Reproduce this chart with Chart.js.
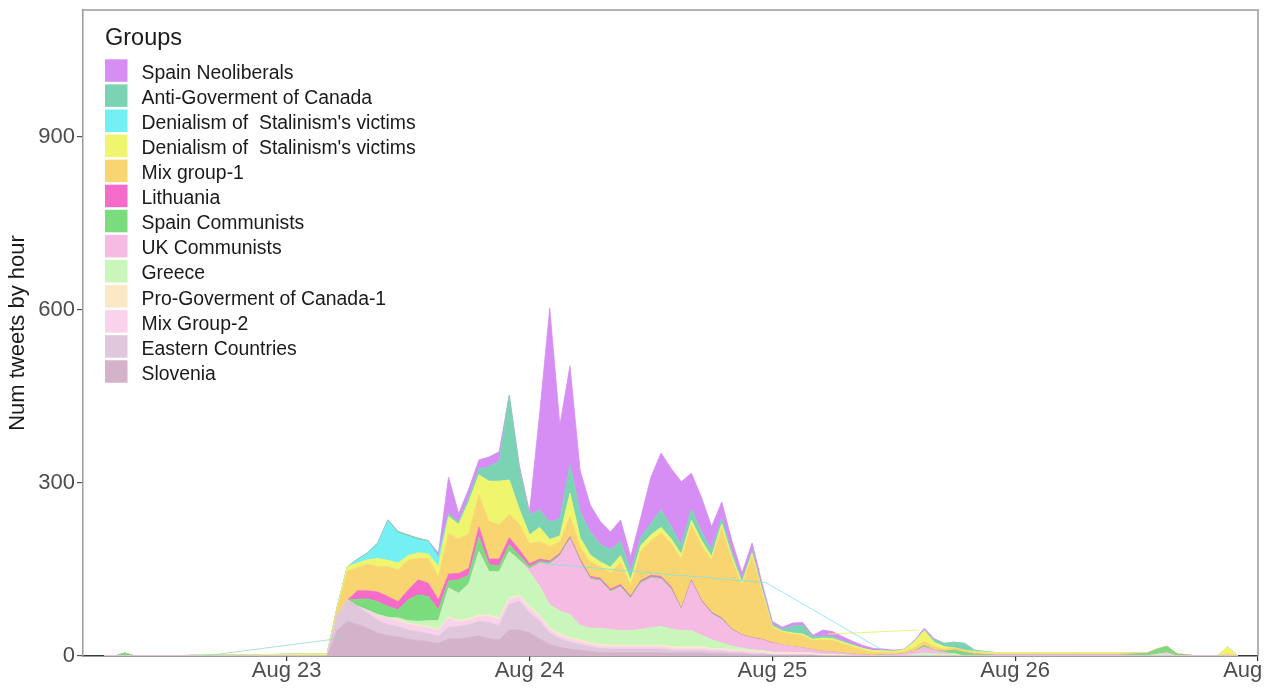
<!DOCTYPE html>
<html>
<head>
<meta charset="utf-8">
<script src="https://cdn.jsdelivr.net/npm/chart.js@4.4.1/dist/chart.umd.min.js"></script>
<style>
  html, body { margin: 0; padding: 0; background: #ffffff; overflow: hidden; width: 1274px; height: 689px; }
  #wrap { position: absolute; left: 0; top: 0; width: 1265px; height: 689px; overflow: hidden; }
  canvas { display: block; }
</style>
</head>
<body>
<div id="wrap"><canvas id="chart" width="1320" height="689"></canvas></div>
<script>
// Hours counted from Aug 23 00:00 (hourly buckets of tweets)
const hours = [
  -18, -17, -16, -15, -12, -8, -4, 0, 2, 3, 4,
  5, 6, 7, 8, 9, 10, 11, 12, 13, 14,
  15, 16, 17, 18, 19, 20, 21, 22, 23, 24,
  25, 26, 27, 28, 29, 30, 31, 32, 33, 34,
  35, 36, 37, 38, 39, 40, 41, 42, 43, 44,
  45, 46, 47, 48, 49, 50, 51, 52, 53, 54,
  55, 56, 57, 58, 59, 60, 61, 62, 63, 64,
  65, 66, 67, 68,
  70, 74, 78, 82, 85, 86, 87, 88, 90, 92, 93, 94
];

// Tweets per hour for each group (stacked bottom to top)
const slovenia = [
  0, 0, 0, 0, 0, 0, 0, 0, 0, 0, 0,
  45, 60, 55, 48, 40, 35, 33, 29, 27, 25,
  22, 30, 30, 32, 35, 30, 28, 45, 45, 40,
  30, 20, 15, 12, 10, 8, 6, 6, 6, 6,
  6, 6, 6, 5, 5, 5, 5, 4, 4, 3,
  3, 2, 2, 1, 1, 1, 1, 1, 0, 0,
  0, 0, 0, 0, 0, 0, 0, 0, 0, 0,
  0, 0, 0, 0,
  0, 0, 0, 0, 0, 0, 0, 0, 0, 0, 0, 0
];
const easternCountries = [
  0, 0, 0, 0, 0, 0, 0, 0, 0, 0, 0,
  25, 37, 31, 26, 22, 19, 18, 16, 15, 14,
  12, 20, 21, 22, 25, 28, 25, 45, 50, 35,
  30, 20, 15, 12, 10, 8, 7, 6, 6, 6,
  6, 6, 6, 5, 5, 5, 5, 4, 4, 3,
  3, 2, 2, 1, 1, 1, 1, 1, 0, 0,
  0, 0, 0, 0, 0, 0, 0, 0, 0, 0,
  0, 0, 0, 0,
  0, 0, 0, 0, 0, 0, 0, 0, 0, 0, 0, 0
];
const mixGroup2 = [
  0, 0, 0, 0, 0, 0, 0, 0, 0, 0, 0,
  0, 0, 0, 5, 8, 10, 10, 10, 10, 10,
  10, 15, 8, 8, 8, 10, 10, 8, 8, 8,
  8, 6, 5, 5, 5, 4, 4, 4, 4, 4,
  4, 4, 4, 4, 3, 3, 3, 3, 3, 3,
  3, 3, 2, 2, 2, 2, 2, 1, 1, 1,
  0, 0, 0, 0, 0, 0, 0, 0, 0, 0,
  0, 0, 0, 0,
  0, 0, 0, 0, 0, 0, 0, 0, 0, 0, 0, 0
];
const proGovCanada1 = [
  0, 0, 0, 0, 0, 0, 0, 0, 0, 0, 0,
  0, 0, 0, 0, 0, 0, 2, 2, 2, 2,
  2, 3, 3, 3, 3, 3, 3, 3, 3, 3,
  3, 3, 3, 3, 3, 3, 3, 3, 3, 3,
  3, 3, 3, 3, 3, 3, 3, 2, 2, 2,
  2, 2, 2, 2, 2, 2, 2, 2, 2, 2,
  2, 1, 0, 0, 0, 0, 0, 0, 0, 0,
  0, 0, 0, 0,
  0, 0, 0, 0, 0, 0, 0, 0, 0, 0, 0, 0
];
const greece = [
  0, 0, 0, 0, 0, 0, 0, 0, 0, 0, 0,
  0, 0, 0, 0, 2, 3, 3, 4, 6, 10,
  15, 50, 47, 60, 110, 75, 80, 80, 60, 60,
  50, 40, 40, 40, 25, 25, 28, 27, 25, 25,
  27, 30, 32, 30, 28, 28, 20, 15, 10, 6,
  3, 2, 2, 1, 1, 0, 0, 0, 0, 0,
  0, 0, 0, 0, 0, 0, 1, 3, 5, 4,
  3, 4, 0, 0,
  0, 0, 0, 0, 0, 3, 3, 0, 0, 0, 0, 0
];
const ukCommunists = [
  0, 0, 0, 0, 0, 0, 0, 0, 0, 0, 0,
  0, 0, 0, 0, 0, 0, 0, 0, 0, 0,
  0, 0, 0, 0, 0, 0, 0, 0, 0, 5,
  40, 70, 95, 130, 110, 85, 82, 65, 75, 55,
  80, 86, 82, 68, 36, 85, 58, 45, 40, 28,
  22, 20, 18, 15, 12, 10, 8, 6, 5, 4,
  3, 2, 2, 1, 2, 2, 3, 5, 10, 6,
  3, 0, 0, 0,
  2, 2, 2, 2, 0, 0, 3, 0, 0, 0, 0, 0
];
const spainCommunists = [
  0, 0, 5, 0, 0, 0, 0, 0, 0, 0, 0,
  0, 0, 12, 20, 22, 19, 14, 36, 46, 42,
  19, 12, 23, 15, 25, 12, 10, 12, 8, 4,
  3, 3, 2, 2, 2, 2, 2, 2, 2, 2,
  2, 2, 2, 2, 1, 1, 1, 1, 1, 1,
  0, 0, 0, 0, 0, 0, 0, 0, 0, 0,
  0, 0, 0, 0, 0, 0, 0, 0, 3, 0,
  2, 6, 6, 3,
  0, 0, 0, 0, 4, 8, 10, 3, 0, 0, 0, 0
];
const lithuania = [
  0, 0, 0, 0, 0, 0, 0, 0, 0, 0, 0,
  0, 0, 15, 14, 17, 17, 14, 17, 26, 23,
  17, 12, 11, 12, 18, 10, 12, 12, 10, 5,
  4, 3, 3, 3, 3, 3, 3, 3, 3, 3,
  3, 3, 3, 3, 2, 2, 2, 2, 2, 1,
  1, 1, 1, 1, 0, 0, 0, 0, 0, 0,
  0, 0, 0, 0, 0, 0, 0, 0, 0, 0,
  0, 0, 0, 0,
  0, 0, 0, 0, 0, 0, 0, 0, 0, 0, 0, 0
];
const mixGroup1 = [
  0, 0, 0, 0, 0, 0, 0, 0, 1, 1, 1,
  10, 50, 40, 46, 44, 52, 55, 52, 37, 43,
  40, 70, 60, 60, 55, 65, 60, 40, 45, 35,
  30, 25, 20, 35, 22, 25, 20, 28, 38, 18,
  50, 60, 75, 75, 85, 95, 95, 90, 155, 120,
  85, 140, 80, 27, 22, 22, 22, 16, 20, 20,
  16, 12, 8, 5, 4, 3, 4, 6, 8, 6,
  4, 4, 4, 3,
  2, 2, 2, 2, 1, 1, 1, 1, 0, 0, 4, 0
];
const denialismYellow = [
  0, 0, 0, 0, 0, 2, 2, 3, 3, 3, 3,
  5, 8, 8, 8, 14, 11, 12, 8, 10, 8,
  18, 30, 25, 55, 35, 70, 75, 60, 25, 15,
  25, 12, 10, 40, 15, 12, 8, 10, 12, 10,
  10, 10, 10, 8, 8, 8, 8, 6, 8, 6,
  5, 6, 4, 2, 2, 2, 2, 2, 3, 3,
  3, 3, 3, 3, 3, 3, 3, 10, 18, 8,
  4, 0, 0, 2,
  2, 2, 2, 2, 0, 0, 0, 0, 0, 0, 12, 0
];
const denialismCyan = [
  0, 0, 0, 0, 0, 0, 0, 0, 0, 0, 0,
  0, 0, 5, 10, 24, 67, 52, 33, 22, 21,
  15, 0, 0, 0, 0, 0, 0, 0, 0, 0,
  0, 0, 0, 0, 0, 0, 0, 0, 0, 0,
  0, 0, 0, 0, 0, 0, 0, 0, 0, 0,
  0, 0, 0, 0, 0, 0, 0, 0, 0, 0,
  0, 0, 0, 0, 0, 0, 0, 0, 0, 0,
  0, 0, 0, 0,
  0, 0, 0, 0, 0, 0, 0, 0, 0, 0, 0, 0
];
const antiGovCanada = [
  0, 0, 0, 0, 0, 0, 0, 0, 0, 0, 0,
  0, 0, 2, 2, 3, 3, 3, 3, 3, 2,
  3, 5, 4, 8, 10, 25, 35, 147, 70, 35,
  30, 30, 30, 50, 45, 40, 30, 30, 25, 15,
  14, 20, 30, 22, 16, 20, 15, 12, 10, 8,
  5, 5, 4, 3, 3, 12, 15, 4, 4, 3,
  2, 2, 0, 0, 0, 0, 0, 0, 0, 4,
  6, 10, 12, 2,
  0, 0, 0, 0, 0, 0, 0, 0, 0, 0, 0, 0
];
const spainNeoliberals = [
  0, 0, 0, 0, 0, 0, 0, 0, 0, 0, 0,
  0, 0, 0, 0, 0, 0, 0, 0, 0, 0,
  5, 63, 15, 15, 16, 17, 16, 0, 6, 5,
  167, 371, 162, 171, 72, 47, 40, 31, 37, 25,
  35, 80, 99, 100, 110, 62, 60, 40, 28, 19,
  12, 13, 8, 5, 4, 5, 5, 3, 10, 9,
  7, 5, 5, 4, 3, 2, 1, 2, 4, 2,
  0, 0, 0, 0,
  0, 0, 0, 0, 0, 0, 0, 0, 0, 0, 0, 0
];

// Group names, bottom of the stack first
const groupNames = [
  'Slovenia', 'Eastern Countries', 'Mix Group-2', 'Pro-Goverment of Canada-1',
  'Greece', 'UK Communists', 'Spain Communists', 'Lithuania', 'Mix group-1',
  "Denialism of  Stalinism's victims", "Denialism of  Stalinism's victims",
  'Anti-Goverment of Canada', 'Spain Neoliberals'
];
const groupSeries = [
  slovenia, easternCountries, mixGroup2, proGovCanada1, greece, ukCommunists,
  spainCommunists, lithuania, mixGroup1, denialismYellow, denialismCyan,
  antiGovCanada, spainNeoliberals
];

// Thin connector lines left by groups with sparse hourly records
const cyanTraceHours = [25.5, 47.4, 58.9];
const cyanTraceValues = [160, 127, 10];
const yellowTraceHours = [53.5, 62.5];
const yellowTraceValues = [38, 45];
const greenTraceHours = [-8.2, 5.5];
const greenTraceValues = [0, 31];

// Axis ticks
const dayTickHours = [0, 24, 48, 72, 96];
const dayTickLabels = ['Aug 23', 'Aug 24', 'Aug 25', 'Aug 26', 'Aug 27'];
const yTickValues = [0, 300, 600, 900];

const groupColors = [
  '#d4b2ca', '#e0c7db', '#f9d3ec', '#fbe9c6', '#c9f6bb', '#f6bbe2',
  '#7bdc7e', '#f56bc9', '#f9d572', '#eff56c', '#73f0f4', '#7bd3b4', '#d68df4'
];

const FONT = "'Liberation Sans', Arial, Helvetica, sans-serif";

const datasets = groupSeries.map((vals, i) => ({
  label: groupNames[i],
  data: hours.map((h, j) => ({ x: h, y: vals[j] })),
  backgroundColor: groupColors[i],
  borderColor: groupColors[i],
  borderWidth: 0.8,
  pointRadius: 0,
  tension: 0,
  fill: i === 0 ? 'origin' : '-1',
  stack: 'groups'
}));

function traceDataset(hs, vs, color, key) {
  return {
    label: key,
    data: hs.map((h, j) => ({ x: h, y: vs[j] })),
    borderColor: color,
    borderWidth: 1,
    pointRadius: 0,
    fill: false,
    stack: key,
    order: -1
  };
}
datasets.push(traceDataset(cyanTraceHours, cyanTraceValues, 'rgba(120,225,240,0.75)', 'cyanTrace'));
datasets.push(traceDataset(yellowTraceHours, yellowTraceValues, 'rgba(235,240,110,0.9)', 'yellowTrace'));
datasets.push(traceDataset(greenTraceHours, greenTraceValues, 'rgba(150,220,190,0.8)', 'greenTrace'));

// Panel frame around the plotting area
const framePlugin = {
  id: 'panelFrame',
  afterDraw(chart) {
    const { ctx, chartArea: a } = chart;
    ctx.save();
    ctx.strokeStyle = '#9a9a9a';
    ctx.lineWidth = 1.5;
    ctx.beginPath();
    ctx.moveTo(a.left, a.top);
    ctx.lineTo(a.right, a.top);
    ctx.lineTo(a.right, a.bottom);
    ctx.stroke();
    ctx.restore();
  }
};

// Legend box drawn inside the panel, top-left
const groupsLegend = {
  id: 'groupsLegend',
  afterDraw(chart) {
    const ctx = chart.ctx;
    ctx.save();
    ctx.fillStyle = '#1a1a1a';
    ctx.textBaseline = 'alphabetic';
    ctx.textAlign = 'left';
    ctx.font = '23.5px ' + FONT;
    ctx.fillText('Groups', 105, 44.5);
    const n = groupNames.length;
    for (let k = 0; k < n; k++) {
      const i = n - 1 - k;
      const top = 59.3 + k * 25.08;
      ctx.fillStyle = groupColors[i];
      ctx.fillRect(105, top, 22.5, 22.5);
      ctx.fillStyle = '#1a1a1a';
      ctx.font = '19.4px ' + FONT;
      ctx.fillText(groupNames[i], 141.5, top + 19.5);
    }
    ctx.restore();
  }
};

new Chart(document.getElementById('chart'), {
  type: 'line',
  data: { datasets },
  options: {
    responsive: false,
    animation: false,
    layout: { padding: { left: 0, top: 10, right: 62, bottom: 0 } },
    plugins: {
      legend: { display: false },
      tooltip: { enabled: false },
      title: { display: false }
    },
    scales: {
      x: {
        type: 'linear',
        min: -20.13,
        max: 96,
        afterBuildTicks: s => { s.ticks = dayTickHours.map(v => ({ value: v })); },
        afterFit: s => { s.height = 33; },
        ticks: {
          callback: v => dayTickLabels[dayTickHours.indexOf(v)],
          font: { family: FONT, size: 22 },
          color: '#4d4d4d',
          padding: -3,
          maxRotation: 0,
          autoSkip: false
        },
        grid: { display: true, drawOnChartArea: false, drawTicks: true, tickLength: 5, color: '#333333', lineWidth: 1.2 },
        border: { display: true, color: '#3a3a3a', width: 1.5 }
      },
      y: {
        type: 'linear',
        stacked: true,
        min: 0,
        max: 1120,
        afterBuildTicks: s => { s.ticks = yTickValues.map(v => ({ value: v })); },
        afterFit: s => { s.width = 83; s.paddingTop = 0; s.paddingBottom = 0; },
        ticks: {
          font: { family: FONT, size: 22 },
          color: '#4d4d4d',
          padding: 2
        },
        grid: { display: true, drawOnChartArea: false, drawTicks: true, tickLength: 6, color: '#555555', lineWidth: 1.2 },
        border: { display: true, color: '#9a9a9a', width: 1.5 },
        title: {
          display: true,
          text: 'Num tweets by hour',
          font: { family: FONT, size: 22 },
          color: '#1a1a1a',
          padding: { top: 5, bottom: 0 }
        }
      }
    }
  },
  plugins: [framePlugin, groupsLegend]
});
</script>
</body>
</html>
